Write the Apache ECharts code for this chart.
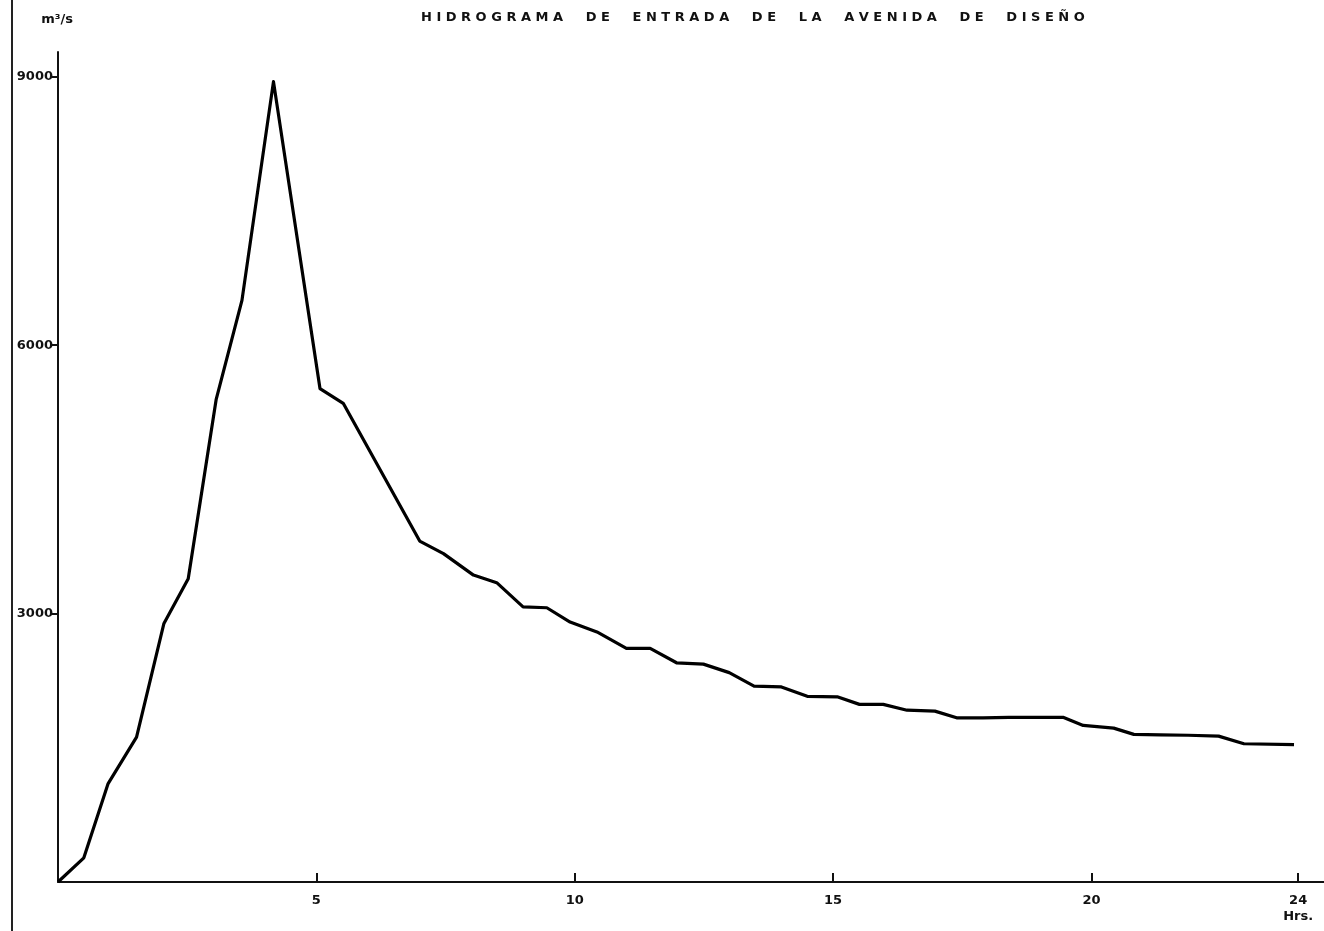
<!DOCTYPE html>
<html>
<head>
<meta charset="utf-8">
<script src="https://cdn.jsdelivr.net/npm/echarts@6/dist/echarts.min.js"></script>
<style>
  html, body { margin: 0; padding: 0; background: #ffffff; }
  #chart { width: 1324px; height: 931px; }
</style>
</head>
<body>
<div id="chart"></div>
<script>
// Inflow design flood hydrograph (time in hours, discharge in m3/s)
const hours = [0, 0.5, 0.97, 1.52, 2.05, 2.52, 3.06, 3.56, 4.17, 5.07,
  5.52, 7.0, 7.46, 8.04, 8.49, 9.0, 9.46, 9.91, 10.43, 11.0,
  11.46, 11.97, 12.49, 12.99, 13.47, 14.0, 14.5, 15.08, 15.51, 15.97,
  16.43, 16.97, 17.39, 17.9, 18.4, 18.9, 19.45, 19.84, 20.43, 20.82,
  21.33, 21.87, 22.46, 22.95, 23.92];
const flow = [0, 270, 1100, 1620, 2890, 3390, 5390, 6500, 8945, 5515,
  5350, 3810, 3670, 3430, 3345, 3075, 3065, 2905, 2795, 2610,
  2610, 2450, 2435, 2340, 2190, 2180, 2075, 2070, 1985, 1985,
  1920, 1910, 1835, 1835, 1840, 1840, 1840, 1750, 1720, 1650,
  1645, 1640, 1630, 1545, 1535];
const xTicks = [5, 10, 15, 20, 24];
const yTicks = [3000, 6000, 9000];
const titleText = 'HIDROGRAMA DE ENTRADA DE LA AVENIDA DE DISEÑO';
const yUnit = 'm³/s';
const xUnit = 'Hrs.';

const spaced = titleText.split(' ').map(w => w.split('').join(' ')).join('     ');
const seriesData = hours.map((h, i) => [h, flow[i]]);

const chart = echarts.init(document.getElementById('chart'), null, { renderer: 'canvas' });
const font = 'DejaVu Sans';
chart.setOption({
  backgroundColor: '#ffffff',
  animation: false,
  title: {
    text: spaced,
    left: 416,
    top: 6,
    textStyle: { fontFamily: font, fontWeight: 'bold', fontSize: 13, color: '#111' }
  },
  grid: { left: 58, right: 0, top: 52, bottom: 49, containLabel: false, outerBoundsMode: 'none' },
  xAxis: {
    type: 'value',
    min: 0,
    max: 24.5,
    splitLine: { show: false },
    axisLine: { show: true, lineStyle: { color: '#111', width: 2 } },
    axisTick: { show: true, inside: true, length: 9, customValues: xTicks, lineStyle: { color: '#111', width: 2 } },
    axisLabel: {
      customValues: xTicks,
      margin: 11,
      fontFamily: font, fontWeight: 'bold', fontSize: 13, color: '#111',
      lineHeight: 16,
      formatter: v => (v === 24 ? '24\n' + xUnit : String(v))
    }
  },
  yAxis: {
    type: 'value',
    min: 0,
    max: 9276,
    name: yUnit,
    nameLocation: 'end',
    nameGap: 26,
    nameTextStyle: { fontFamily: font, fontWeight: 'bold', fontSize: 13, color: '#111', align: 'center', padding: [0, 2, 0, 0] },
    splitLine: { show: false },
    axisLine: { show: true, lineStyle: { color: '#111', width: 2 } },
    axisTick: { show: true, inside: false, length: 6, customValues: yTicks, lineStyle: { color: '#111', width: 2 } },
    axisLabel: {
      customValues: yTicks,
      margin: 5,
      fontFamily: font, fontWeight: 'bold', fontSize: 13, color: '#111',
      formatter: v => String(v)
    }
  },
  graphic: [{
    type: 'line',
    shape: { x1: 12, y1: 0, x2: 12, y2: 931 },
    style: { stroke: '#222', lineWidth: 2 },
    silent: true
  }],
  series: [{
    type: 'line',
    data: seriesData,
    showSymbol: false,
    symbol: 'none',
    smooth: false,
    lineStyle: { color: '#000', width: 3.2, join: 'round' }
  }]
});
</script>
</body>
</html>
